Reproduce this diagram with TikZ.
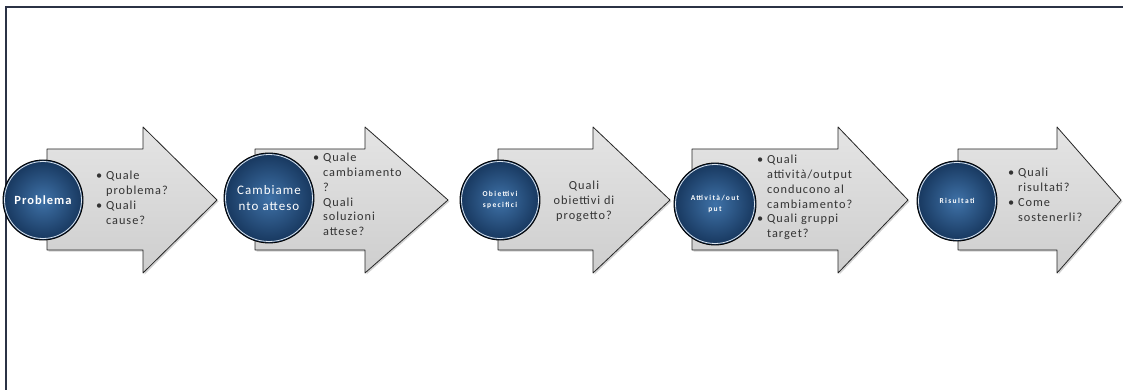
\documentclass[tikz,border=0pt]{standalone}
\usepackage{fontspec}
\setmainfont{Carlito}
\newfontfamily\spacedfont[LetterSpace=8]{Carlito}
\newfontfamily\widefont[LetterSpace=18]{Carlito}
\usetikzlibrary{shadows}
\definecolor{frameC}{HTML}{2B3245}
\definecolor{ballOut}{HTML}{17375E}
\definecolor{ballIn}{HTML}{3F72A8}
\definecolor{arrowFill}{HTML}{D9D9D9}
\definecolor{txtC}{HTML}{333333}
\tikzset{
  bigarrow/.style={draw=black!85, line width=0.8pt, line join=round,
     top color=arrowFill!70!white, bottom color=arrowFill!95!black, middle color=arrowFill,
     drop shadow={shadow xshift=1.5pt, shadow yshift=-1.5pt, fill=black!35, opacity=0.5}},
  ball/.style={circle, draw=black, line width=0.9pt, inner sep=0pt, align=center,
     inner color=ballIn, outer color=ballOut, text=white, font=\bfseries},
  ballrim/.style={draw=white!80!ballIn, line width=0.8pt},
  qtext/.style={text=txtC, align=left, anchor=north west, inner sep=0pt,
     font=\spacedfont\fontsize{12.3}{14.8}\selectfont},
}
\newcommand\flowarrow[3]{%
  \path[bigarrow] (#1,149) -- (#2,149) -- (#2,127) -- (#3,200) -- (#2,273) -- (#2,250) -- (#1,250) -- cycle;}
\begin{document}
\begin{tikzpicture}[x=1pt,y=-1pt]
\useasboundingbox (0,0) rectangle (1123,390);
\fill[white] (0,0) rectangle (1123,390);
\draw[frameC, line width=1.6pt] (6,390) -- (6,7) -- (1123,7);
% arrows
\flowarrow{47}{143}{217}
\flowarrow{255}{365}{448}
\flowarrow{498}{593}{670}
\flowarrow{692}{838}{908}
\flowarrow{958}{1057}{1121}
% balls
\node[ball, minimum size=80pt, font=\spacedfont\bfseries\fontsize{12.5}{14}\selectfont] (p1) at (43,200) {Problema};
\node[ball, minimum size=90pt, font=\spacedfont\fontsize{13}{16}\selectfont] (p2) at (269,198) {Cambiame\\nto atteso};
\node[ball, minimum size=80pt, font=\widefont\bfseries\fontsize{7.5}{11}\selectfont] (p3) at (500,200) {Obiettivi\\specifici};
\node[ball, minimum size=82pt, font=\widefont\bfseries\fontsize{7.5}{11}\selectfont] (p4) at (715,204) {Attività/out\\put};
\node[ball, minimum size=80pt, font=\widefont\bfseries\fontsize{7.5}{11}\selectfont] (p5) at (957,201) {Risultati};
\foreach \b/\r in {p1/38.5,p2/43.5,p3/38.5,p4/39.5,p5/38.5}{
  \draw[ballrim] (\b.center) circle[radius=\r pt];
}
% texts
\node[qtext] (t1) at (96,171) {\textbullet\ Quale\\\hphantom{\textbullet\ }problema?\\\textbullet\ Quali\\\hphantom{\textbullet\ }cause?};
\node[qtext] (t2) at (313,153) {\textbullet\ Quale\\\hphantom{\textbullet\ }cambiamento\\\hphantom{\textbullet\ }?\\\hphantom{\textbullet\ }Quali\\\hphantom{\textbullet\ }soluzioni\\\hphantom{\textbullet\ }attese?};
\node[qtext, anchor=center, align=center] (t3) at (584,201) {Quali\\obiettivi di\\progetto?};
\node[qtext] (t4) at (757,155) {\textbullet\ Quali\\\hphantom{\textbullet\ }attività/output\\\hphantom{\textbullet\ }conducono al\\\hphantom{\textbullet\ }cambiamento?\\\textbullet\ Quali gruppi\\\hphantom{\textbullet\ }target?};
\node[qtext] (t5) at (1008,168) {\textbullet\ Quali\\\hphantom{\textbullet\ }risultati?\\\textbullet\ Come\\\hphantom{\textbullet\ }sostenerli?};
\end{tikzpicture}
\end{document}
